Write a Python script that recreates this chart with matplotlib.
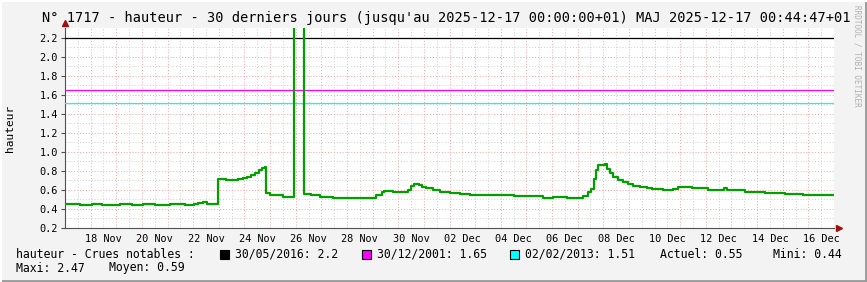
import matplotlib
matplotlib.use('Agg')
import matplotlib.pyplot as plt
from matplotlib.patches import Rectangle
from matplotlib.lines import Line2D

# Series: day offset from 2025-11-17 00:00, water height (step values)
days = [0.0, 0.6, 1.05, 1.45, 2.15, 2.6, 3.05, 3.5, 4.1, 4.7, 5.05, 5.2, 5.4, 5.55,
        5.98, 6.3, 6.55, 6.75, 6.95, 7.1, 7.25, 7.4, 7.55, 7.7, 7.8,
        7.85, 8.0, 8.52, 8.93, 9.33, 9.6, 9.95, 10.47, 12.03, 12.15, 12.36, 12.45,
        12.8, 13.4, 13.5, 13.62, 13.8, 13.93, 14.1, 14.36, 14.62, 15.02, 15.41,
        15.8, 17.5, 18.65, 19.05, 19.57, 19.96, 20.22, 20.42, 20.52, 20.65, 20.72,
        20.78, 21.05, 21.13, 21.26, 21.39, 21.59, 21.78, 21.98, 22.17, 22.43, 22.7,
        22.89, 23.34, 23.73, 23.93, 24.45, 24.78, 25.1, 25.56, 25.69, 25.82, 26.27,
        26.53, 27.31, 28.09, 28.81, 29.39, 30.0]
hauteur = [0.45, 0.44, 0.45, 0.44, 0.45, 0.44, 0.45, 0.44, 0.45, 0.44, 0.45, 0.46, 0.47, 0.45,
           0.71, 0.70, 0.705, 0.71, 0.72, 0.74, 0.76, 0.78, 0.81, 0.83, 0.845,
           0.565, 0.55, 0.53, 2.47, 0.555, 0.545, 0.53, 0.51, 0.52, 0.545, 0.58, 0.585,
           0.575, 0.60, 0.64, 0.66, 0.65, 0.635, 0.618, 0.60, 0.58, 0.57, 0.558,
           0.545, 0.535, 0.52, 0.525, 0.515, 0.52, 0.535, 0.58, 0.61, 0.71, 0.81,
           0.865, 0.87, 0.818, 0.776, 0.74, 0.705, 0.684, 0.663, 0.645, 0.635, 0.618,
           0.607, 0.60, 0.605, 0.635, 0.625, 0.615, 0.60, 0.595, 0.615, 0.60, 0.595,
           0.582, 0.572, 0.56, 0.55, 0.545, 0.545]

# Notable floods
crue_vals = [2.2, 1.65, 1.51]
crue_dates = ['30/05/2016', '30/12/2001', '02/02/2013']
crue_colors = ['#000000', '#FF00FF', '#00FFFF']

tick_pos = [1.5, 3.5, 5.5, 7.5, 9.5, 11.5, 13.5, 15.5, 17.5, 19.5, 21.5, 23.5, 25.5, 27.5, 29.5]
tick_labels = ['18 Nov', '20 Nov', '22 Nov', '24 Nov', '26 Nov', '28 Nov', '30 Nov',
               '02 Dec', '04 Dec', '06 Dec', '08 Dec', '10 Dec', '12 Dec', '14 Dec', '16 Dec']
y_ticks = [0.2, 0.4, 0.6, 0.8, 1.0, 1.2, 1.4, 1.6, 1.8, 2.0, 2.2]

mono = 'DejaVu Sans Mono'
W, H = 867, 282
fig = plt.figure(figsize=(W / 100, H / 100), dpi=100)
fig.patch.set_facecolor('#F3F3F3')

ax = fig.add_axes([65 / W, 54 / H, 769 / W, 200 / H])
ax.set_xlim(0, 30)
ax.set_ylim(0.2, 2.3)

# grid: red each day / 0.2, grey each half day / 0.1
for d in range(31):
    ax.axvline(d, color='#FFA0A0', lw=0.7, ls=(0, (1, 2)), zorder=1)
    if d < 30:
        ax.axvline(d + 0.5, color='#D0D0D0', lw=0.7, ls=(0, (1, 2)), zorder=1)
for k in range(2, 23):
    v = k / 10
    col = '#FFA0A0' if k % 2 == 0 else '#D0D0D0'
    ax.axhline(v, color=col, lw=0.7, ls=(0, (1, 2)), zorder=1)

for v, c in zip(crue_vals, crue_colors):
    ax.axhline(v, color=c, lw=0.9, zorder=3)

ax.plot(days, hauteur, drawstyle='steps-post', color='#00A000', lw=1.6, zorder=4)

for s in ['top', 'right']:
    ax.spines[s].set_visible(False)
ax.spines['left'].set_color('#505050')
ax.spines['bottom'].set_color('#505050')
ax.spines['left'].set_linewidth(0.8)
ax.spines['bottom'].set_linewidth(0.8)

ax.set_xticks(tick_pos)
ax.set_xticklabels(tick_labels, fontfamily=mono, fontsize=7.4)
ax.tick_params(axis='x', length=0, pad=4)
ax.set_yticks(y_ticks)
ax.set_yticklabels(['%.1f' % v for v in y_ticks], fontfamily=mono, fontsize=7.4)
ax.tick_params(axis='y', length=3, width=0.8, color='#505050', pad=2)

# arrows at axis ends
ax.plot([1.007], [0], marker='>', ms=5, color='#A01010', transform=ax.transAxes, clip_on=False)
ax.plot([0], [1.025], marker='^', ms=5, color='#A01010', transform=ax.transAxes, clip_on=False)

ax.set_ylabel('hauteur', fontfamily=mono, fontsize=8, labelpad=18)

fig.text(446 / W, 0.936, "N° 1717 - hauteur - 30 derniers jours (jusqu'au 2025-12-17 00:00:00+01) MAJ 2025-12-17 00:44:47+01",
         ha='center', va='center', fontfamily=mono, fontsize=9.8)
fig.text(857 / W, 1 - 5 / H, 'RRDTOOL / TOBI OETIKER', rotation=270, ha='center', va='top',
         fontfamily=mono, fontsize=5.5, color='#B0B0B0')

# legend
fs = 8.3
row1 = 1 - 254 / H
row2 = 1 - 268 / H
fig.text(16 / W, row1, 'hauteur - Crues notables :', ha='left', va='center', fontfamily=mono, fontsize=fs)
for x0, v, dt, c in zip([220, 362, 510], crue_vals, crue_dates, crue_colors):
    fig.patches.append(Rectangle((x0 / W, row1 - 4.5 / H), 9 / W, 9 / H, transform=fig.transFigure,
                                 facecolor=c, edgecolor='black', lw=0.8))
    fig.text((x0 + 15) / W, row1, '%s: %g' % (dt, v), ha='left', va='center', fontfamily=mono, fontsize=fs)
fig.text(660 / W, row1, 'Actuel: %.2f' % hauteur[-1], ha='left', va='center', fontfamily=mono, fontsize=fs)
fig.text(773 / W, row1, 'Mini: %.2f' % min(hauteur), ha='left', va='center', fontfamily=mono, fontsize=fs)
fig.text(16 / W, row2, 'Maxi: %.2f' % max(hauteur), ha='left', va='center', fontfamily=mono, fontsize=fs)
fig.text(109 / W, row2, 'Moyen: 0.59', ha='left', va='center', fontfamily=mono, fontsize=fs)

# 3D frame
fig.lines.append(Line2D([0, 1], [1.5 / H, 1.5 / H], transform=fig.transFigure, color='#9A9A9A', lw=2))
fig.lines.append(Line2D([1 - 1.5 / W, 1 - 1.5 / W], [0, 1], transform=fig.transFigure, color='#9A9A9A', lw=2))
fig.lines.append(Line2D([0, 1], [1 - 1 / H, 1 - 1 / H], transform=fig.transFigure, color='#FFFFFF', lw=1.5))
fig.lines.append(Line2D([1 / W, 1 / W], [0, 1], transform=fig.transFigure, color='#FFFFFF', lw=1.5))

fig.savefig('out.png', dpi=100, facecolor=fig.get_facecolor())
